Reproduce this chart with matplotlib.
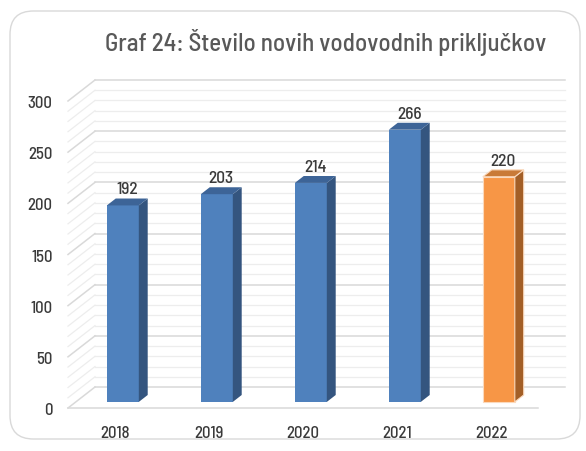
"""Graf 24: Število novih vodovodnih priključkov (3D-style column chart)."""

import matplotlib

matplotlib.use("Agg")
import matplotlib.pyplot as plt
from matplotlib.patches import FancyBboxPatch, Polygon


years = ["2018", "2019", "2020", "2021", "2022"]
values = [192, 203, 214, 266, 220]
y_ticks = [0, 50, 100, 150, 200, 250, 300]
title = "Graf 24: Število novih vodovodnih priključkov"

FONT = ["Barlow Semi Condensed", "DejaVu Sans"]
TEXT = "#3A3A3A"

# colours: front, side, top, edge
BLUE = ("#4F81BD", "#34557F", "#3D6497", "none")
ORANGE = ("#F79646", "#A35F27", "#C97A37", "#FBD9BC")

# depth of the 3D box in data units (categories, values)
DX, DY = 0.287, 20.5
T0, T1 = 0.29, 0.62  # bar front / back depth fraction
HALF_W = 0.17

plt.rcParams["font.family"] = FONT
plt.rcParams["font.weight"] = "medium"

W, H = 586, 452
fig = plt.figure(figsize=(W / 100, H / 100), dpi=100)
fig.patch.set_facecolor("white")

frame = FancyBboxPatch((10 / W, 12 / H), 570 / W, 428 / H,
                       boxstyle="round,pad=0,rounding_size=0.04",
                       transform=fig.transFigure, facecolor="white",
                       edgecolor="#D9D9D9", linewidth=1.0, mutation_aspect=W / H,
                       zorder=-5)
fig.patches.append(frame)

ax = fig.add_axes([68 / W, (H - 409) / H, 470 / W, 307 / H])
ax.set_xlim(-0.5, len(years) - 0.5)
ax.set_ylim(0, 300)
ax.patch.set_alpha(0)
for s in ax.spines.values():
    s.set_visible(False)

x0, x1 = -0.5, len(years) - 0.5

# back wall and left side wall gridlines
for v in range(0, 301, 10):
    major = v % 50 == 0
    col = "#D9D9D9" if major else "#EDEDED"
    lw = 1.1 if major else 0.9
    if v > 0:
        ax.plot([x0 + DX, x1 + DX], [v + DY, v + DY], color=col, lw=lw,
                clip_on=False, zorder=1)
    ax.plot([x0, x0 + DX], [v, v + DY], color=col, lw=lw, clip_on=False, zorder=1)
# floor
ax.plot([x0, x1], [0, 0], color="#D9D9D9", lw=1.1, clip_on=False, zorder=1)
ax.plot([x0 + DX, x1 + DX], [DY, DY], color="#D9D9D9", lw=1.1, clip_on=False, zorder=1)

# bars
for i, v in enumerate(values):
    front, side, top, edge = ORANGE if i == len(values) - 1 else BLUE
    lw = 0.8 if edge != "none" else 0
    a, b = i - HALF_W, i + HALF_W
    fx0, fy0 = T0 * DX, T0 * DY
    bx0, by0 = T1 * DX, T1 * DY
    faces = [
        ([(a + fx0, fy0), (b + fx0, fy0), (b + fx0, v + fy0), (a + fx0, v + fy0)], front),
        ([(b + fx0, fy0), (b + bx0, by0), (b + bx0, v + by0), (b + fx0, v + fy0)], side),
        ([(a + fx0, v + fy0), (b + fx0, v + fy0), (b + bx0, v + by0), (a + bx0, v + by0)], top),
    ]
    for pts, col in faces:
        ax.add_patch(Polygon(pts, closed=True, facecolor=col, edgecolor=edge,
                             linewidth=lw, clip_on=False, zorder=3))
    ax.annotate(str(v), (i + (T0 + T1) / 2 * DX, v + T1 * DY),
                xytext=(0, 1.5), textcoords="offset points", ha="center",
                va="bottom", fontsize=12.5, color=TEXT, zorder=4)

ax.set_xticks(range(len(years)))
ax.set_xticklabels(years)
ax.set_yticks(y_ticks)
ax.tick_params(axis="both", length=0, labelsize=12, colors=TEXT)
ax.tick_params(axis="x", pad=12)
ax.tick_params(axis="y", pad=11)

fig.text(326 / W, (H - 42) / H, title, ha="center", va="center",
         fontsize=18, color="#595959")

fig.savefig("out.png", dpi=100)
plt.close(fig)
